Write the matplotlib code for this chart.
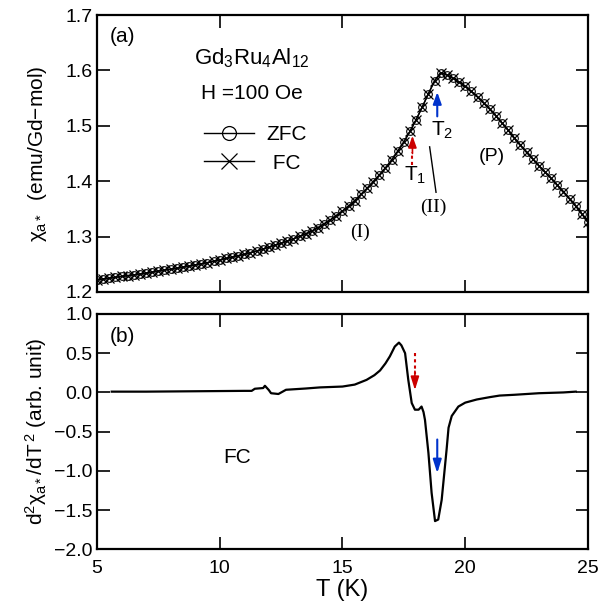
import matplotlib
matplotlib.use('Agg')
import matplotlib.pyplot as plt
from matplotlib.lines import Line2D

plt.rcParams['font.family'] = ['Liberation Sans', 'DejaVu Sans']
plt.rcParams['mathtext.fontset'] = 'custom'
plt.rcParams['mathtext.rm'] = 'Liberation Sans'
plt.rcParams['mathtext.it'] = 'Liberation Sans'

# (a) susceptibility, ZFC and FC (identical within the drawing)
temp_a = [5.00, 5.25, 5.50, 5.75, 6.00, 6.25, 6.50, 6.75, 7.00, 7.25,
          7.50, 7.75, 8.00, 8.25, 8.50, 8.75, 9.00, 9.25, 9.50, 9.75,
          10.00, 10.25, 10.50, 10.75, 11.00, 11.25, 11.50, 11.75, 12.00, 12.25,
          12.50, 12.75, 13.00, 13.25, 13.50, 13.75, 14.00, 14.25, 14.50, 14.75,
          15.00, 15.25, 15.50, 15.75, 16.00, 16.25, 16.50, 16.75, 17.00, 17.25,
          17.50, 17.75, 18.00, 18.25, 18.50, 18.75, 19.00, 19.25, 19.50, 19.75,
          20.00, 20.25, 20.50, 20.75, 21.00, 21.25, 21.50, 21.75, 22.00, 22.25,
          22.50, 22.75, 23.00, 23.25, 23.50, 23.75, 24.00, 24.25, 24.50, 24.75,
          25.00]
chi_zfc = [1.222, 1.2235, 1.225, 1.2265, 1.228, 1.2295, 1.231, 1.2325, 1.234, 1.236,
           1.238, 1.2395, 1.241, 1.243, 1.245, 1.247, 1.249, 1.251, 1.253, 1.2555,
           1.258, 1.2605, 1.263, 1.2655, 1.268, 1.271, 1.274, 1.2775, 1.281, 1.2845,
           1.288, 1.292, 1.296, 1.3005, 1.305, 1.310, 1.316, 1.323, 1.330, 1.338,
           1.346, 1.355, 1.365, 1.376, 1.387, 1.399, 1.411, 1.424, 1.438, 1.454,
           1.471, 1.490, 1.511, 1.534, 1.558, 1.581, 1.596, 1.592, 1.586, 1.579,
           1.571, 1.562, 1.552, 1.541, 1.530, 1.518, 1.505, 1.492, 1.478, 1.465,
           1.452, 1.440, 1.428, 1.4165, 1.405, 1.393, 1.381, 1.368, 1.355, 1.341,
           1.326]
chi_fc = list(chi_zfc)

# (b) second derivative, FC
temp_b = [5.6, 7.0, 9.0, 11.0, 11.3, 11.43, 11.77, 11.84, 12.0, 12.09,
          12.39, 12.7, 13.5, 14.08, 15.0, 15.5, 15.98, 16.3, 16.53, 16.75,
          16.93, 17.13, 17.3, 17.4, 17.55, 17.68, 17.82, 17.95, 18.1, 18.22,
          18.3, 18.36, 18.5, 18.63, 18.77, 18.9, 19.04, 19.24, 19.32, 19.45,
          19.72, 20.0, 20.47, 21.0, 21.4, 22.0, 23.0, 24.0, 24.5]
d2chi = [0.01, 0.01, 0.015, 0.02, 0.02, 0.047, 0.056, 0.085, 0.03, -0.01,
         -0.02, 0.034, 0.05, 0.064, 0.075, 0.10, 0.16, 0.22, 0.28, 0.37,
         0.46, 0.585, 0.635, 0.60, 0.50, 0.16, -0.135, -0.22, -0.22, -0.18,
         -0.25, -0.35, -0.77, -1.28, -1.64, -1.62, -1.37, -0.73, -0.45, -0.30,
         -0.18, -0.13, -0.09, -0.06, -0.04, -0.03, -0.01, 0.0, 0.01]

t1 = 17.85
t2 = 18.86
red = '#cc0000'
blue = '#0033cc'

fig = plt.figure(figsize=(6.08, 6.03), dpi=100)
ax1 = fig.add_axes([0.1595, 0.5158, 0.8076, 0.4593])
ax2 = fig.add_axes([0.1595, 0.0890, 0.8076, 0.3903])

for ax in (ax1, ax2):
    ax.tick_params(direction='in', length=9, width=1.2, top=True, right=True,
                   labelsize=14, pad=3)
    ax.tick_params(axis='x', pad=8)
    for s in ax.spines.values():
        s.set_linewidth(1.6)
    ax.set_xlim(5, 25)
    ax.set_xticks([5, 10, 15, 20, 25])

# panel (a)
ax1.plot(temp_a, chi_zfc, '-', color='black', lw=1.0, marker='o', ms=5.5,
         mfc='none', mec='black', mew=0.8)
ax1.plot(temp_a, chi_fc, '-', color='black', lw=1.0, marker='x', ms=7, mew=0.9)
ax1.set_ylim(1.2, 1.7)
ax1.set_yticks([1.2, 1.3, 1.4, 1.5, 1.6, 1.7])
ax1.set_yticklabels(['1.2', '1.3', '1.4', '1.5', '1.6', '1.7'])
ax1.tick_params(labelbottom=False)
ax1.set_ylabel(r'$\chi_{a*}$  (emu/Gd$-$mol)', fontsize=15, labelpad=12)

ax1.text(0.025, 0.955, '(a)', transform=ax1.transAxes, fontsize=15, va='top')
ax1.text(0.315, 0.845, r'Gd$_3$Ru$_4$Al$_{12}$', transform=ax1.transAxes,
         fontsize=16, ha='center', va='center')
ax1.text(0.315, 0.715, 'H =100 Oe', transform=ax1.transAxes, fontsize=15,
         ha='center', va='center')
handles = [Line2D([], [], color='black', lw=1.0, marker='o', ms=10, mfc='none', mew=0.9),
           Line2D([], [], color='black', lw=1.0, marker='x', ms=11, mew=0.9)]
ax1.legend(handles, ['ZFC', ' FC'], loc='upper left', bbox_to_anchor=(0.18, 0.67),
           frameon=False, fontsize=15, handlelength=2.4, handletextpad=0.6,
           labelspacing=0.45, numpoints=1)

# arrows in (a)
ax1.plot([t1, t1], [1.430, 1.453], ls=(0, (1.5, 1.5)), color=red, lw=1.5)
ax1.annotate('', xy=(t1, 1.482), xytext=(t1, 1.450),
             arrowprops=dict(arrowstyle='-|>,head_length=0.7,head_width=0.25',
                             color=red, lw=1.2, shrinkA=0, shrinkB=0))
ax1.annotate('', xy=(t2, 1.561), xytext=(t2, 1.517),
             arrowprops=dict(arrowstyle='-|>,head_length=0.7,head_width=0.25',
                             color=blue, lw=1.5, shrinkA=0, shrinkB=0))
ax1.text(t1 + 0.1, 1.411, r'T$_1$', fontsize=15, ha='center', va='center')
ax1.text(t2 + 0.2, 1.492, r'T$_2$', fontsize=15, ha='center', va='center')
ax1.plot([18.55, 18.81], [1.462, 1.38], color='black', lw=1.0)
ax1.text(18.7, 1.352, '(II)', fontsize=14, ha='center', va='center',
         family='Liberation Serif')
ax1.text(15.7, 1.308, '(I)', fontsize=14, ha='center', va='center',
         family='Liberation Serif')
ax1.text(21.1, 1.444, '(P)', fontsize=14, ha='center', va='center')

# panel (b)
ax2.plot(temp_b, d2chi, '-', color='black', lw=1.6)
ax2.set_ylim(-2.0, 1.0)
ax2.set_yticks([-2.0, -1.5, -1.0, -0.5, 0.0, 0.5, 1.0])
ax2.set_yticklabels(['\u22122.0', '\u22121.5', '\u22121.0', '\u22120.5', '0.0', '0.5', '1.0'])
ax2.set_ylabel(r'd$^2\chi_{a*}$/dT$^{\,2}$ (arb. unit)', fontsize=15, labelpad=4)
ax2.set_xlabel('T (K)', fontsize=17, labelpad=1)
ax2.text(0.025, 0.945, '(b)', transform=ax2.transAxes, fontsize=15, va='top')
ax2.text(0.285, 0.39, 'FC', transform=ax2.transAxes, fontsize=15, ha='center', va='center')

ax2.plot([17.95, 17.95], [0.5, 0.24], ls=(0, (1.5, 1.5)), color=red, lw=1.5)
ax2.annotate('', xy=(17.95, 0.03), xytext=(17.95, 0.27),
             arrowprops=dict(arrowstyle='-|>,head_length=0.8,head_width=0.25',
                             color=red, lw=1.2, shrinkA=0, shrinkB=0))
ax2.annotate('', xy=(18.86, -1.03), xytext=(18.86, -0.6),
             arrowprops=dict(arrowstyle='-|>,head_length=0.8,head_width=0.25',
                             color=blue, lw=1.5, shrinkA=0, shrinkB=0))

fig.savefig('out.png', dpi=100)
